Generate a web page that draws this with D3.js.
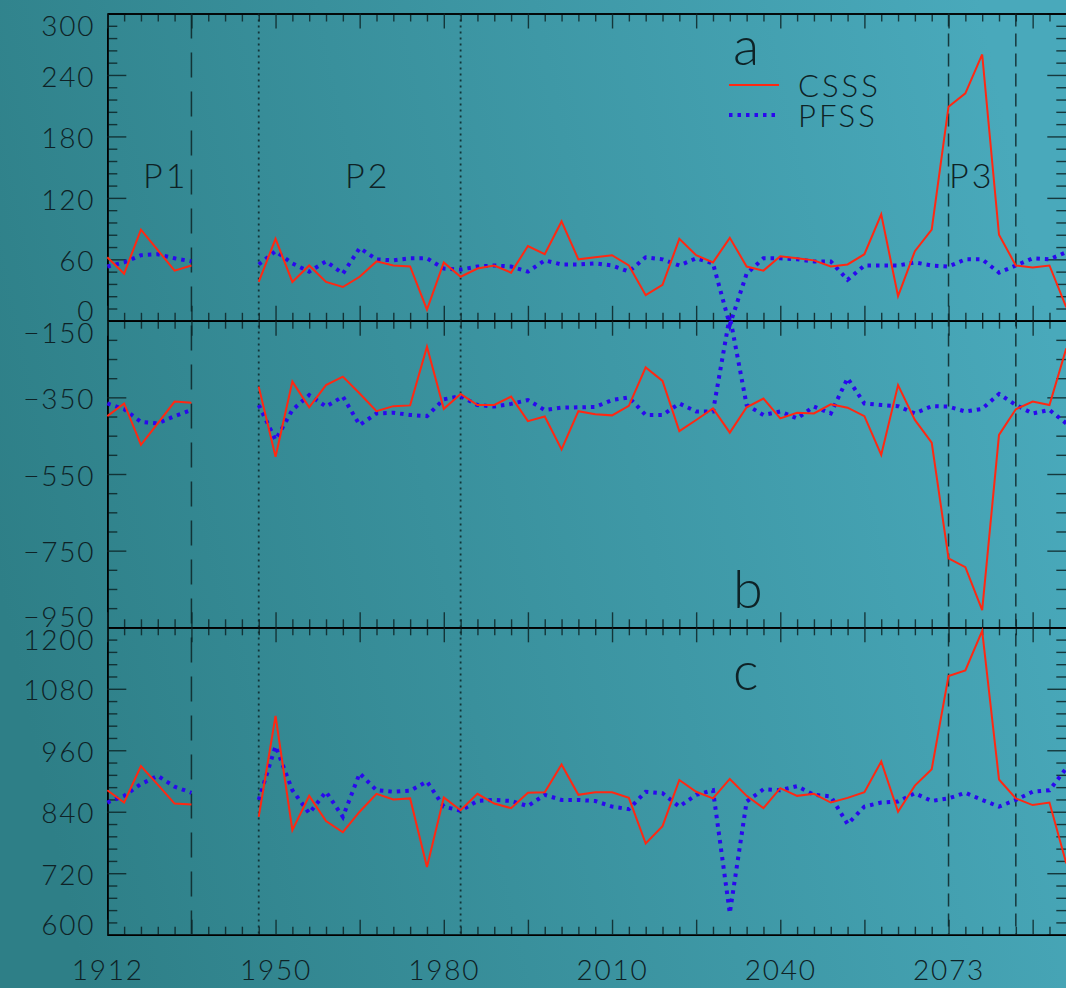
<!DOCTYPE html>
<html>
<head>
<meta charset="utf-8">
<script src="https://cdn.jsdelivr.net/npm/d3@7"></script>
<style>
  body { margin: 0; background: #3a909c; overflow: hidden; }
  svg text { font-family: Lato, "Open Sans", sans-serif; font-weight: 300; fill: #0e2226; }
</style>
</head>
<body>
<div id="chart"></div>
<script>
// x axis is a running index (0..57); labels sit on every 10th step
const xLabels = ["1912", "1950", "1980", "2010", "2040", "2073"];
const xLabelIndex = [0, 10, 20, 30, 40, 50];
const nPoints = 58;

// panel a
const csssA = [62, 46, 89, 69, 49, 54, null, null, null,
  38, 80, 38, 54, 38, 33, 43, 58, 54, 53, 11, 57, 43, 51, 54, 47, 73, 65, 97, 60, 62,
  64, 54, 25, 35, 80, 64, 57, 81, 53, 49, 63, 61, 59, 53, 55, 65, 104, 24, 68, 89,
  209, 222, 260, 84, 54, 52, 54, 13];
const pfssA = [53, 57, 64, 65, 61, 58, null, null, null,
  55, 68, 56, 48, 58, 46, 71, 60, 59, 61, 61, 51, 50, 53, 54, 53, 48, 59, 55, 55, 56,
  54, 48, 62, 60, 54, 61, 56, -4, 46, 61, 61, 60, 58, 58, 40, 54, 54, 54, 57, 54,
  53, 60, 60, 47, 54, 61, 60, 67];

// panel b
const csssB = [-399, -366, -474, -418, -361, -364, null, null, null,
  -322, -505, -309, -376, -318, -296, -340, -386, -373, -371, -218, -380, -341, -370, -370, -348, -412, -400, -486, -386, -394,
  -397, -372, -272, -307, -438, -409, -379, -442, -376, -353, -405, -390, -392, -368, -377, -399, -500, -318, -409, -468,
  -770, -793, -905, -448, -381, -361, -370, -222];
const pfssB = [-366, -381, -414, -418, -399, -383, null, null, null,
  -370, -461, -383, -344, -374, -348, -422, -392, -390, -396, -399, -355, -347, -370, -374, -367, -357, -383, -377, -376, -375,
  -357, -350, -396, -396, -366, -387, -387, -138, -370, -396, -387, -405, -374, -392, -300, -366, -370, -373, -392, -373,
  -374, -387, -380, -341, -370, -392, -383, -418];

// panel c
const csssC = [882, 858, 929, 893, 856, 854, null, null, null,
  830, 1027, 804, 871, 822, 800, 840, 875, 864, 866, 732, 868, 843, 875, 856, 847, 877, 878, 932, 873, 878,
  878, 867, 778, 812, 902, 879, 866, 904, 871, 847, 886, 871, 875, 858, 867, 878, 938, 840, 891, 923,
  1105, 1116, 1193, 903, 866, 853, 858, 739];
const pfssC = [858, 871, 894, 910, 889, 877, null, null, null,
  863, 968, 882, 837, 879, 830, 915, 882, 879, 881, 899, 850, 842, 861, 863, 861, 851, 873, 863, 863, 861,
  850, 845, 879, 876, 850, 873, 882, 642, 860, 884, 882, 890, 873, 870, 816, 850, 858, 860, 876, 861,
  866, 877, 863, 850, 863, 879, 882, 925];

const seriesNames = ["CSSS", "PFSS"];
const panelLetters = ["a", "b", "c"];
const periodNames = ["P1", "P2", "P3"];

const W = 1066, H = 988;
const left = 107.3, right = 1066.3;

const svg = d3.select("#chart").append("svg")
    .attr("width", W)
    .attr("height", H);

// background gradient
const grad = svg.append("defs").append("linearGradient")
    .attr("id", "bg").attr("x1", "0%").attr("y1", "60%").attr("x2", "100%").attr("y2", "40%");
grad.append("stop").attr("offset", "0%").attr("stop-color", "#2e7f87");
grad.append("stop").attr("offset", "100%").attr("stop-color", "#49a9bb");
svg.append("rect").attr("width", W).attr("height", H).attr("fill", "url(#bg)");

const x = d3.scaleLinear().domain([0, nPoints - 1]).range([left, right]);

const panels = [
  {csss: csssA, pfss: pfssA, domain: [0, 300], top: 13.5, bottom: 320.8, major: 60, minor: 12},
  {csss: csssB, pfss: pfssB, domain: [-950, -150], top: 320.7, bottom: 627.3, major: 200, minor: 50},
  {csss: csssC, pfss: pfssC, domain: [600, 1200], top: 627.3, bottom: 934.7, major: 120, minor: 24}
];

const fmt = d => d < 0 ? "\u2212" + Math.abs(d) : String(d);

panels.forEach((p, k) => {
  const y = d3.scaleLinear().domain(p.domain).range([p.bottom, p.top]);
  p.y = y;
  const majors = d3.range(p.domain[0], p.domain[1] + 1, p.major);
  const minors = d3.range(p.domain[0], p.domain[1] + 1, p.minor).filter(v => !majors.includes(v));
  const xMajor = d3.range(0, nPoints, 5);
  const xMinor = d3.range(0, nPoints).filter(v => v % 5 != 0);

  const g = svg.append("g").attr("class", "panel");

  // y minor ticks, left and right
  g.append("g").attr("transform", `translate(${left},0)`)
    .call(d3.axisLeft(y).tickValues(minors).tickSize(-10).tickSizeOuter(0).tickFormat(""));
  g.append("g").attr("transform", `translate(${right},0)`)
    .call(d3.axisRight(y).tickValues(minors).tickSize(-10).tickSizeOuter(0).tickFormat(""));
  // y major ticks with labels
  const ly = g.append("g").attr("class", "ylab").attr("transform", `translate(${left},0)`)
    .call(d3.axisLeft(y).tickValues(majors).tickSize(-19).tickSizeOuter(0).tickPadding(12).tickFormat(fmt));
  g.append("g").attr("transform", `translate(${right},0)`)
    .call(d3.axisRight(y).tickValues(majors).tickSize(-19).tickSizeOuter(0).tickFormat(""));
  ly.selectAll("text")
    .attr("font-size", 28)
    .attr("letter-spacing", 1.8)
    .attr("dy", (d, i) => i == 0 ? "-0.02em" : i == majors.length - 1 ? "0.78em" : "0.4em");

  // x ticks on top and bottom of every panel
  g.append("g").attr("transform", `translate(0,${p.bottom})`)
    .call(d3.axisBottom(x).tickValues(xMinor).tickSize(-8).tickSizeOuter(0).tickFormat(""));
  g.append("g").attr("transform", `translate(0,${p.top})`)
    .call(d3.axisTop(x).tickValues(xMinor).tickSize(-8).tickSizeOuter(0).tickFormat(""));
  const bx = g.append("g").attr("transform", `translate(0,${p.bottom})`)
    .call(d3.axisBottom(x).tickValues(xMajor).tickSize(-15).tickSizeOuter(0).tickPadding(22)
      .tickFormat(d => k == 2 && xLabelIndex.includes(d) ? xLabels[xLabelIndex.indexOf(d)] : ""));
  bx.selectAll("text").attr("font-size", 28).attr("letter-spacing", 1.8).attr("dy", "0.85em");
  g.append("g").attr("transform", `translate(0,${p.top})`)
    .call(d3.axisTop(x).tickValues(xMajor).tickSize(-15).tickSizeOuter(0).tickFormat(""));
});

svg.selectAll(".panel .tick line").attr("stroke", "#0d2427").attr("stroke-width", 1.4).attr("opacity", 0.85);
svg.selectAll(".panel .domain").attr("stroke", "#000").attr("stroke-width", 1.6);

// vertical period markers
const markers = [
  {i: 5, dash: "25,14"},
  {i: 9, dash: "2,4"},
  {i: 21, dash: "2,4"},
  {i: 50, dash: "13,7"},
  {i: 54, dash: "13,7"}
];
svg.append("g").selectAll("line")
  .data(markers)
  .join("line")
    .attr("x1", d => x(d.i)).attr("x2", d => x(d.i))
    .attr("y1", panels[0].top).attr("y2", panels[2].bottom)
    .attr("stroke", "#0d2427")
    .attr("stroke-opacity", 0.85)
    .attr("stroke-width", d => d.dash == "2,4" ? 1.8 : 1.5)
    .attr("stroke-dasharray", d => d.dash);

// data lines
panels.forEach(p => {
  const line = d3.line()
    .defined(d => d != null)
    .x((d, i) => x(i))
    .y(d => p.y(d));
  svg.append("path").datum(p.pfss)
    .attr("fill", "none")
    .attr("stroke", "#2a08ee")
    .attr("stroke-width", 4)
    .attr("stroke-dasharray", "3.5,5")
    .attr("d", line);
  svg.append("path").datum(p.csss)
    .attr("fill", "none")
    .attr("stroke", "#ff2812")
    .attr("stroke-width", 2)
    .attr("stroke-linejoin", "miter")
    .attr("d", line);
});

// panel letters
const letterPos = [[733, 65], [733, 608], [733, 690]];
panelLetters.forEach((t, k) => {
  svg.append("text").attr("x", letterPos[k][0]).attr("y", letterPos[k][1])
    .attr("font-size", 54).text(t);
});

// period labels
const periodPos = [[143, 188], [345, 188], [949, 188]];
periodNames.forEach((t, k) => {
  svg.append("text").attr("x", periodPos[k][0]).attr("y", periodPos[k][1])
    .attr("font-size", 34).attr("letter-spacing", 3).text(t);
});

// legend
const leg = svg.append("g").attr("transform", "translate(729,85)");
leg.append("line").attr("x1", 0).attr("x2", 50).attr("y1", 0).attr("y2", 0)
  .attr("stroke", "#ff2812").attr("stroke-width", 2);
leg.append("line").attr("x1", 0).attr("x2", 50).attr("y1", 30).attr("y2", 30)
  .attr("stroke", "#2a08ee").attr("stroke-width", 4).attr("stroke-dasharray", "3.5,5");
leg.selectAll("text.lg")
  .data(seriesNames)
  .join("text")
    .attr("class", "lg")
    .attr("x", 69)
    .attr("y", (d, i) => 12 + i * 30)
    .attr("font-size", 31)
    .attr("letter-spacing", 3)
    .text(d => d);
</script>
</body>
</html>
